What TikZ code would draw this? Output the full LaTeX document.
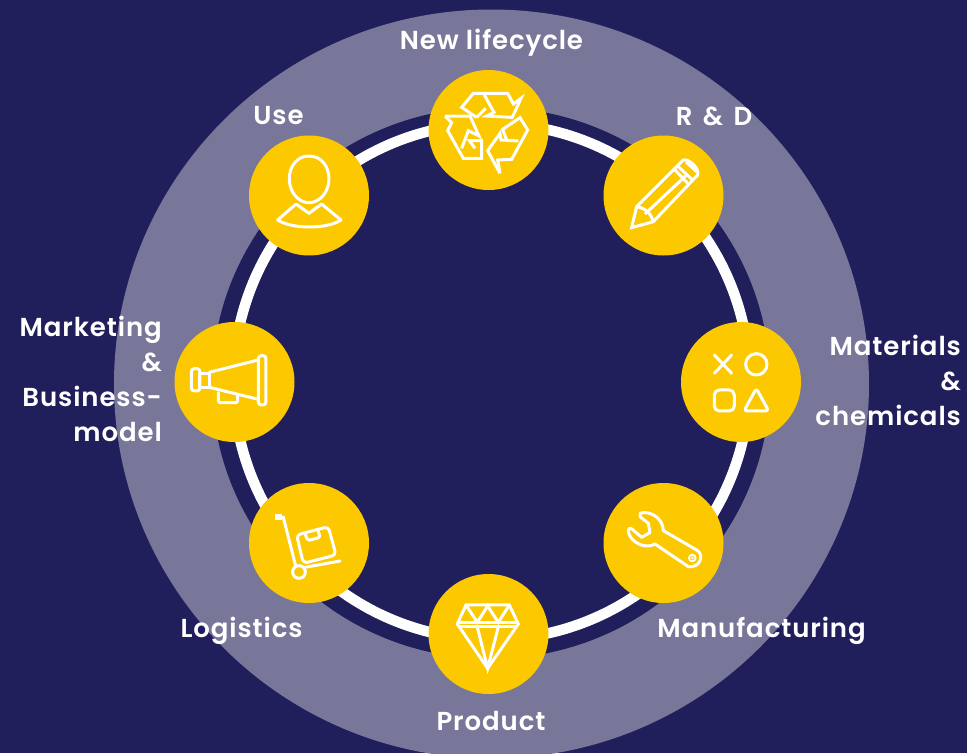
\documentclass[tikz,border=0pt]{standalone}
\usepackage{fontspec}
\setmainfont{Poppins}[UprightFont=* SemiBold,LetterSpace=3.5]
\definecolor{navy}{HTML}{201F5C}
\definecolor{band}{HTML}{797799}
\definecolor{gold}{HTML}{FCC800}
\tikzset{
 hub/.style={circle,fill=gold,minimum size=120pt,inner sep=0pt},
 lbl/.style={text=white,font=\fontsize{26}{35}\selectfont,inner sep=0pt},
 ico/.style={draw=white,line width=3pt,line join=miter,line cap=butt,fill=none},
 icor/.style={draw=white,line width=3pt,line join=round,line cap=round,fill=none},
 zoomA/.style={shift={(420,60)},x=0.3333pt,y=-0.3333pt},
 zoomB/.style={shift={(170,130)},x=0.3333pt,y=-0.3333pt},
 zoomC/.style={shift={(240,480)},x=0.3333pt,y=-0.3333pt},
 zoomD/.style={shift={(595,320)},x=0.3333pt,y=-0.3333pt},
 zoomE/.style={shift={(435,80)},x=0.3333pt,y=-0.3333pt},
}
\begin{document}
\begin{tikzpicture}[x=1pt,y=-1pt]
\useasboundingbox (0,0) rectangle (967,753);
\fill[navy] (0,0) rectangle (967,753);
\begin{scope}
\clip (0,0) rectangle (967,753);
\fill[band] (491.5,384) ellipse[x radius=377.5,y radius=374.5];
\end{scope}
\fill[navy] (491,383) ellipse[x radius=279,y radius=275.7];
\draw[white,line width=10.5pt] (491.5,381.5) circle[radius=258];
\node[hub] (life) at (488.5,130) {};
\node[hub] (rd) at (663.5,195.5) {};
\node[hub] (mat) at (741,382) {};
\node[hub] (manu) at (663.5,543) {};
\node[hub] (prod) at (488.5,634) {};
\node[hub] (logi) at (309,543) {};
\node[hub] (mkt) at (234.5,382) {};
\node[hub] (use) at (309,195.5) {};
% recycle
\begin{scope}[zoomE]
\draw[ico] (125,112)--(80,82)--(115,40)--(218,40)--(235,72)--(258,55)--(232,112)--(155,108)--(177,97)--(148,45);
\draw[ico] (125,112)--(152,85);
\draw[ico] (30,108)--(105,108)--(132,168)--(100,152)--(80,205);
\draw[ico] (30,108)--(50,128)--(38,152)--(85,235)--(140,235)--(140,182)--(103,182)--(120,205);
\draw[ico] (195,280)--(188,240)--(230,238)--(278,150)--(255,113)--(203,148)--(215,180);
\draw[ico] (195,280)--(158,212)--(195,160)--(198,180)--(250,183);
\end{scope}
% pencil
\begin{scope}[zoomA]
\draw[ico] (650,440)--(790,300) .. controls (805,295) and (840,325) .. (833,345)--(700,485)--(635,503)--cycle;
\draw[ico] (650,440) .. controls (680,445) and (695,465) .. (700,485);
\draw[ico] (675,462)--(800,345);
\draw[ico] (765,330)--(805,372);
\draw[ico] (775,320)--(818,360);
\draw[ico] (798,306)--(830,335);
\end{scope}
% person
\begin{scope}[zoomB]
\draw[icor] (417,78) .. controls (455,78) and (477,110) .. (477,147) .. controls (477,185) and (450,218) .. (417,218) .. controls (384,218) and (358,185) .. (358,147) .. controls (358,110) and (380,78) .. (417,78) -- cycle;
\draw[icor] (323,270)--(378,222)--(417,250)--(455,222)--(513,270) .. controls (470,298) and (366,298) .. (323,270)--cycle;
\end{scope}
% megaphone
\begin{scope}[zoomB]
\draw[icor,rounded corners=3pt] (64,716) rectangle (90,783);
\draw[icor] (90,731) rectangle (118,772);
\draw[icor] (118,727)--(265,690);
\draw[icor] (118,772)--(265,808);
\draw[icor,rounded corners=3pt] (265,677) rectangle (288,825);
\draw[icor,rounded corners=2pt] (145,788)--(145,818)--(203,818)--(203,798);
\end{scope}
% cart
\begin{scope}[zoomC]
\fill[white] (104,101) rectangle (125,120);
\draw[ico] (120,112)--(130,112)--(168,262);
\draw[icor] (177,276) circle[radius=19];
\draw[icor] (195,262)--(300,243);
\draw[icor,rounded corners=4pt] (170,165)--(265,140)--(288,225)--(190,250)--cycle;
\draw[icor,rounded corners=2pt] (195,160)--(203,182)--(240,172)--(234,150);
\end{scope}
% diamond
\begin{scope}[zoomC]
\draw[ico] (678,375)--(808,375)--(835,432)--(743,565)--(652,432)--cycle;
\draw[ico] (656,427)--(831,427);
\draw[ico] (656,441)--(831,441);
\draw[ico] (678,375)--(712,427)--(743,378)--(775,427)--(808,375);
\draw[ico] (712,441)--(743,565)--(775,441);
\end{scope}
% materials
\begin{scope}[zoomD]
\draw[icor] (358,105)--(410,160);
\draw[icor] (410,105)--(358,160);
\draw[icor] (484,133) circle[radius=32];
\draw[icor,rounded corners=5pt] (358,210) rectangle (418,273);
\draw[icor,rounded corners=3pt] (484,205)--(521,273)--(447,273)--cycle;
\end{scope}
% wrench
\begin{scope}[zoomD]
\draw[icor] (135,580) .. controls (165,570) and (205,595) .. (205,632)--(305,690) .. controls (330,705) and (315,745) .. (280,740)--(180,672) .. controls (150,690) and (105,665) .. (100,635) .. controls (100,625) and (105,622) .. (112,628)--(140,652)--(165,638)--(160,610)--(135,590)--cycle;
\draw[white,line width=1.8pt] (292,714) circle[radius=10];
\fill[white] (292,714) circle[radius=1.5pt];
\end{scope}
% labels
\node[lbl,anchor=center] (tlife) at (491.5,43) {New lifecycle};
\node[lbl,anchor=center] (trd) at (714,116) {R\hspace{0.4em}\&\hspace{0.4em}D};
\node[lbl,anchor=center] (tuse) at (278.5,116) {Use};
\node[lbl,anchor=east,align=right] (tmat) at (961,380) {Materials\\\&\\chemicals};
\node[lbl,anchor=east,align=right] (tmkt) at (162,379) {Marketing\\\&\\Business-\\model};
\node[lbl,anchor=center] (tlogi) at (241.5,631) {Logistics};
\node[lbl,anchor=center] (tmanu) at (761.5,631) {Manufacturing};
\node[lbl,anchor=center] (tprod) at (491,721) {Product};
\end{tikzpicture}
\end{document}
